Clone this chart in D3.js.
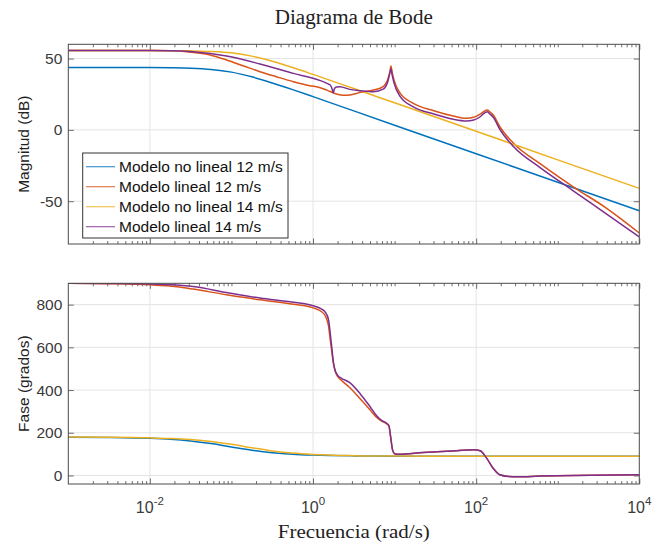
<!DOCTYPE html>
<html><head><meta charset="utf-8">
<script src="https://cdn.jsdelivr.net/npm/d3@7"></script>
<style>body{margin:0;background:#fff}svg{display:block}</style>
</head><body>
<svg id="c" width="663" height="544"></svg>
<script>
// ---- data (frequencies stored as log10(rad/s)) ----
const seriesNames = ["Modelo no lineal 12 m/s","Modelo lineal 12 m/s","Modelo no lineal 14 m/s","Modelo lineal 14 m/s"];
const seriesColors = ["#0072BD","#D95319","#EDB120","#7E2F8E"];

const wNL = [-3,-2.5,-2,-1.75,-1.5,-1.25,-1,-0.75,-0.5,-0.25,0,0.5,1,2,3,4];
const magNL12 = [43.7,43.7,43.65,43.55,43.25,42.4,40.5,37.2,32.9,28.2,23.3,13.3,3.3,-16.7,-36.7,-56.7];
const phNL12  = [179.4,178.1,174.0,169.5,161.7,149.5,133.7,118.2,106.8,99.6,95.5,91.7,90.5,90.1,90,90];
const magNL14 = [55.6,55.6,55.58,55.54,55.4,55.0,54.0,51.7,48.1,43.7,38.9,29.0,19.0,-1.0,-21.0,-41.0];
const phNL14  = [179.6,178.8,176.1,173.2,167.9,159.2,145.9,129.8,115.1,104.7,98.4,92.7,90.8,90.1,90,90];

const wMagL12 = [-3,-2,-1.75,-1.55,-1.26,-1.06,-0.85,-0.65,-0.45,-0.24,-0.04,0.09,0.17,0.29,0.37,0.45,0.58,0.74,0.86,0.92,0.945,0.955,0.97,0.99,1.07,1.23,1.48,1.72,1.88,1.97,2.05,2.11,2.135,2.17,2.21,2.29,2.46,2.78,3.19,3.6,4];
const magL12  = [55.6,55.6,55.4,54.8,52.5,49.0,44.8,40.8,37.3,33.8,31.0,29.6,27.9,25.1,24.2,24.4,26.3,27.9,30.3,36.0,41.5,44.8,40.5,35.5,25.6,18.6,13.4,9.7,8.1,8.8,11.1,13.5,13.9,12.5,10.4,2.2,-9.5,-23.5,-39.9,-55.0,-72.3];

const wMagL14 = [-3,-2,-1.75,-1.47,-1.06,-0.65,-0.24,0.09,0.19,0.215,0.235,0.248,0.262,0.285,0.33,0.45,0.58,0.74,0.86,0.92,0.945,0.955,0.97,0.99,1.07,1.23,1.48,1.72,1.88,1.97,2.05,2.11,2.135,2.17,2.21,2.29,2.46,2.78,3.19,3.6,4];
const magL14  = [55.6,55.6,55.5,54.8,51.8,46.2,39.6,34.5,32.1,31.2,28.5,26.0,28.8,30.0,30.3,28.4,27.5,26.8,28.6,34.5,40.5,42.8,38.5,33.5,23.3,16.2,11.1,7.4,6.2,6.9,9.2,12.2,12.7,11.0,8.8,0.4,-11.8,-26.3,-42.7,-59.0,-75.0];

const wPhL = [-3,-2.5,-2,-1.67,-1.47,-1.06,-0.65,-0.24,0,0.1,0.15,0.19,0.21,0.23,0.25,0.27,0.3,0.35,0.45,0.58,0.7,0.78,0.84,0.9,0.93,0.95,0.975,1.0,1.05,1.35,1.76,1.97,2.05,2.13,2.21,2.29,2.4,2.5,2.78,3.4,4];
const phL12 = [900,898,893,884,873,846,823,802,785,768,748,700,640,580,525,490,465,445,412,358,307,272,255,243,232,185,120,102,99,107,116,121,116,80,33,3,-5,-6,-3,1,3];
const phL14 = [900,899,897,892,885,857,831,811,795,780,765,730,670,600,530,494,470,455,435,382,322,280,258,245,234,185,120,102,99,107,116,121,116,80,33,3,-5,-6,-3,1,3];

const magTicks = [-50,0,50];
const phTicks = [0,200,400,600,800];
const freqMajor = [-2,0,2,4];

// ---- layout ----
const L = 68.3, R = 639.3;
const magTop = 44.3, magBot = 244;
const phTop = 283.3, phBot = 484;

const svg = d3.select("#c");
const x = d3.scaleLog().domain([1e-3,1e4]).range([L,R]);
const yM = d3.scaleLinear().domain([-80,60]).range([magBot,magTop]);
const yP = d3.scaleLinear().domain([-40,900]).range([phBot,phTop]);
const p10 = e => Math.pow(10,e);

const axisCol = "#4a4a4a", gridCol = "#e4e4e4", textCol = "#3a3a3a";
const sans = "'Liberation Sans', Arial, sans-serif";
const serif = "'Liberation Serif', 'Times New Roman', serif";

const minor = [];
for (let d=-3; d<4; d++) for (let k=1;k<10;k++){ const v=k*p10(d); if(k===1 && freqMajor.includes(d)) continue; if(k===1 && d===-3) continue; minor.push(v);} 

function panel(y, top, bot, yTicks, id){
  const g = svg.append("g");
  g.selectAll(".gx").data(freqMajor.filter(e=>e<4)).enter().append("line")
    .attr("x1",e=>x(p10(e))).attr("x2",e=>x(p10(e))).attr("y1",top).attr("y2",bot)
    .attr("stroke",gridCol).attr("stroke-width",1);
  g.selectAll(".gy").data(yTicks).enter().append("line")
    .attr("x1",L).attr("x2",R).attr("y1",d=>y(d)).attr("y2",d=>y(d))
    .attr("stroke",gridCol).attr("stroke-width",1);
  svg.append("clipPath").attr("id",id).append("rect").attr("x",L).attr("y",top).attr("width",R-L).attr("height",bot-top);
  const tb = d3.axisBottom(x).tickValues(freqMajor.map(p10)).tickSize(-5.5).tickFormat("");
  const tt = d3.axisTop(x).tickValues(freqMajor.map(p10)).tickSize(-5.5).tickFormat("");
  const mb = d3.axisBottom(x).tickValues(minor).tickSize(-3).tickFormat("");
  const mt = d3.axisTop(x).tickValues(minor).tickSize(-3).tickFormat("");
  const yl = d3.axisLeft(y).tickValues(yTicks).tickSize(-5.5).tickFormat("");
  const yr = d3.axisRight(y).tickValues(yTicks).tickSize(-5.5).tickFormat("");
  [[tb,bot],[mb,bot],[tt,top],[mt,top]].forEach(([a,ty])=>{
    const ax = svg.append("g").attr("transform",`translate(0,${ty})`).call(a);
    ax.select(".domain").remove();
    ax.selectAll("line").attr("stroke",axisCol).attr("stroke-width",0.8);
  });
  [[yl,L],[yr,R]].forEach(([a,tx])=>{
    const ax = svg.append("g").attr("transform",`translate(${tx},0)`).call(a);
    ax.select(".domain").remove();
    ax.selectAll("line").attr("stroke",axisCol).attr("stroke-width",0.8);
  });
  svg.append("g").selectAll("text").data(yTicks).enter().append("text")
    .attr("x",L-6).attr("y",d=>y(d)).attr("dy","0.36em").attr("text-anchor","end")
    .attr("font-family",sans).attr("font-size",15.5).attr("fill",textCol).text(d=>d);
  return g;
}

panel(yM, magTop, magBot, magTicks, "clipM");
panel(yP, phTop, phBot, phTicks, "clipP");

function drawLine(clip, xs, ys, yScale, color){
  const pts = xs.map((e,i)=>[x(p10(e)), yScale(ys[i])]);
  svg.append("path").attr("clip-path",`url(#${clip})`)
    .attr("d", d3.line().curve(d3.curveMonotoneX)(pts))
    .attr("fill","none").attr("stroke",color).attr("stroke-width",1.5).attr("stroke-linejoin","round");
}
drawLine("clipM", wNL, magNL12, yM, seriesColors[0]);
drawLine("clipM", wMagL12, magL12, yM, seriesColors[1]);
drawLine("clipM", wNL, magNL14, yM, seriesColors[2]);
drawLine("clipM", wMagL14, magL14, yM, seriesColors[3]);
drawLine("clipP", wNL, phNL12, yP, seriesColors[0]);
drawLine("clipP", wPhL, phL12, yP, seriesColors[1]);
drawLine("clipP", wNL, phNL14, yP, seriesColors[2]);
drawLine("clipP", wPhL, phL14, yP, seriesColors[3]);

[[magTop,magBot],[phTop,phBot]].forEach(([t,b])=>{
  svg.append("rect").attr("x",L).attr("y",t).attr("width",R-L).attr("height",b-t)
    .attr("fill","none").attr("stroke",axisCol).attr("stroke-width",1);
});

const xl = svg.append("g").selectAll("text").data(freqMajor).enter().append("text")
  .attr("x",e=>x(p10(e))).attr("y",513).attr("text-anchor","middle")
  .attr("font-family",sans).attr("font-size",16).attr("fill",textCol);
xl.append("tspan").text("10");
xl.append("tspan").attr("dy",-8).attr("font-size",11.5).text(e=>String(e));

const lg = svg.append("g");
lg.append("rect").attr("x",82.7).attr("y",153).attr("width",205.3).attr("height",85)
  .attr("fill","#fff").attr("stroke","#333").attr("stroke-width",1);
seriesNames.forEach((n,i)=>{
  const yy = 166.7 + i*20;
  lg.append("line").attr("x1",86).attr("x2",115).attr("y1",yy).attr("y2",yy)
    .attr("stroke",seriesColors[i]).attr("stroke-width",1.2).attr("opacity",0.75);
  lg.append("text").attr("x",119).attr("y",yy).attr("dy","0.36em")
    .attr("font-family",sans).attr("font-size",15.5).attr("fill","#111").text(n);
});

svg.append("text").attr("transform",`translate(29,${(magTop+magBot)/2}) rotate(-90)`)
  .attr("text-anchor","middle").attr("font-family",sans).attr("font-size",15.5).attr("fill","#222").text("Magnitud (dB)");
svg.append("text").attr("transform",`translate(29,${(phTop+phBot)/2}) rotate(-90)`)
  .attr("text-anchor","middle").attr("font-family",sans).attr("font-size",15.5).attr("fill","#222").text("Fase (grados)");
svg.append("text").attr("x",(L+R)/2).attr("y",24).attr("text-anchor","middle")
  .attr("font-family",serif).attr("font-size",20).attr("textLength",158).attr("lengthAdjust","spacingAndGlyphs")
  .attr("fill","#222").text("Diagrama de Bode");
svg.append("text").attr("x",(L+R)/2).attr("y",538).attr("text-anchor","middle")
  .attr("font-family",serif).attr("font-size",19).attr("textLength",152).attr("lengthAdjust","spacingAndGlyphs")
  .attr("fill","#222").text("Frecuencia (rad/s)");
</script>
</body></html>
